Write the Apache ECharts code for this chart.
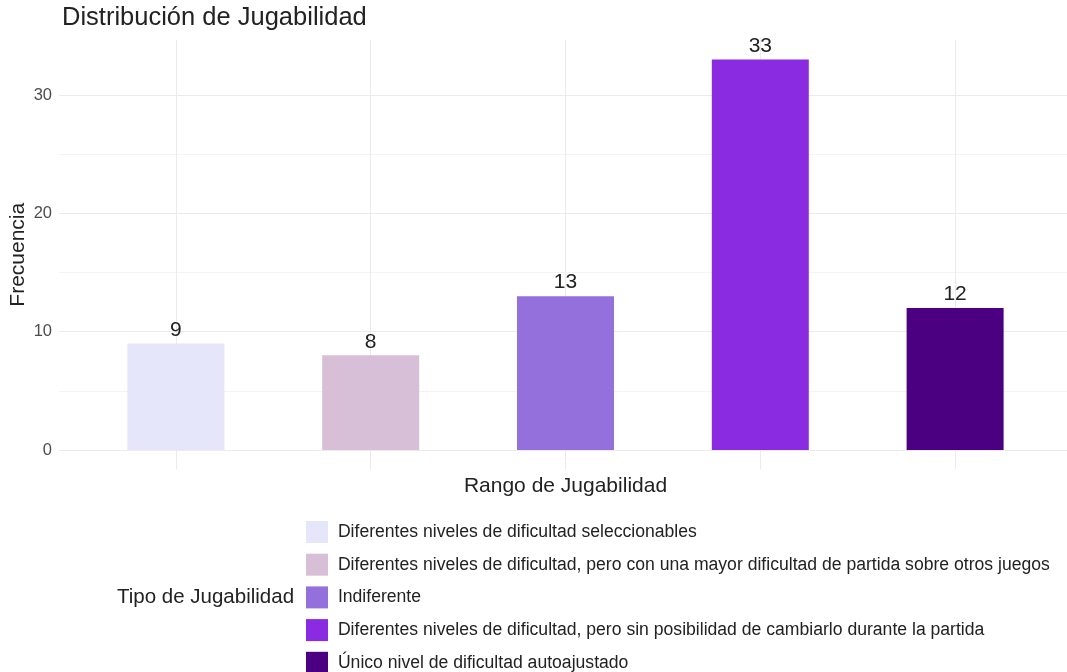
<!DOCTYPE html>
<html>
<head>
<meta charset="utf-8">
<title>Distribución de Jugabilidad</title>
<script src="https://cdn.jsdelivr.net/npm/echarts@6/dist/echarts.min.js"></script>
<style>
  html, body { margin: 0; padding: 0; background: #fff; }
  #chart { width: 1067px; height: 672px; }
</style>
</head>
<body>
<div id="chart"></div>
<script>
// datos
const tipos = [
  'Diferentes niveles de dificultad seleccionables',
  'Diferentes niveles de dificultad, pero con una mayor dificultad de partida sobre otros juegos',
  'Indiferente',
  'Diferentes niveles de dificultad, pero sin posibilidad de cambiarlo durante la partida',
  'Único nivel de dificultad autoajustado'
];
const frecuencias = [9, 8, 13, 33, 12];
const colores = ['#E6E6FA', '#D8BFD8', '#9370DB', '#8A2BE2', '#4B0082'];
const posiciones = [1, 2, 3, 4, 5];
const ticksY = [0, 10, 20, 30];
const ticksMenoresY = [5, 15, 25];

const FONT = 'Liberation Sans';
const chart = echarts.init(document.getElementById('chart'));

// expansion estilo ggplot
const maxY = Math.max(...frecuencias);
const yMin = -0.05 * maxY;
const yMax = maxY * 1.05;

const series = tipos.map((t, i) => ({
  name: t,
  type: 'bar',
  barWidth: 97,
  barGap: '-100%',
  itemStyle: { color: colores[i] },
  label: {
    show: true,
    position: 'top',
    distance: 3,
    color: '#222',
    fontFamily: FONT,
    fontSize: 21
  },
  data: [[posiciones[i], frecuencias[i]]]
}));

const option = {
  backgroundColor: '#fff',
  animation: false,
  textStyle: { fontFamily: FONT },
  title: [
    {
      text: 'Distribución de Jugabilidad',
      left: 57,
      top: 0,
      textStyle: { fontFamily: FONT, fontSize: 25.5, fontWeight: 'normal', color: '#222' }
    },
    {
      text: 'Tipo de Jugabilidad',
      left: 112,
      top: 582,
      textStyle: { fontFamily: FONT, fontSize: 20.5, fontWeight: 'normal', color: '#222' }
    }
  ],
  legend: {
    orient: 'vertical',
    left: 301,
    top: 516,
    height: 170,
    icon: 'rect',
    itemWidth: 22,
    itemHeight: 22,
    itemGap: 10.7,
    formatter: n => ' ' + n,
    textStyle: { fontFamily: FONT, fontSize: 17.6, color: '#222' },
    data: tipos
  },
  grid: { left: 59, right: -5, top: 40, bottom: 202.5, containLabel: false, outerBoundsMode: 'none' },
  xAxis: {
    type: 'value',
    min: 0.4,
    max: 5.6,
    name: 'Rango de Jugabilidad',
    nameLocation: 'middle',
    nameGap: 6,
    nameMoveOverlap: false,
    nameTextStyle: { fontFamily: FONT, fontSize: 21, color: '#222' },
    axisLine: { show: false },
    axisTick: { show: false, customValues: posiciones },
    axisLabel: { show: false },
    splitLine: { show: true, lineStyle: { color: '#ebebeb', width: 1 } }
  },
  yAxis: [
    {
      type: 'value',
      min: yMin,
      max: yMax,
      name: 'Frecuencia',
      nameLocation: 'middle',
      nameGap: 30,
      nameRotate: 90,
      nameMoveOverlap: false,
      nameTextStyle: { fontFamily: FONT, fontSize: 21, color: '#222' },
      axisLine: { show: false },
      axisTick: { show: false, customValues: ticksY },
      axisLabel: {
        customValues: ticksY,
        margin: 7,
        color: '#4d4d4d',
        fontFamily: FONT,
        fontSize: 16.5
      },
      splitLine: { show: true, lineStyle: { color: '#ebebeb', width: 1 } }
    },
    {
      type: 'value',
      min: yMin,
      max: yMax,
      show: true,
      axisLine: { show: false },
      axisTick: { show: false, customValues: ticksMenoresY },
      axisLabel: { show: false },
      splitLine: { show: true, lineStyle: { color: '#f4f4f4', width: 1 } }
    }
  ],
  series: series
};

chart.setOption(option);
</script>
</body>
</html>
